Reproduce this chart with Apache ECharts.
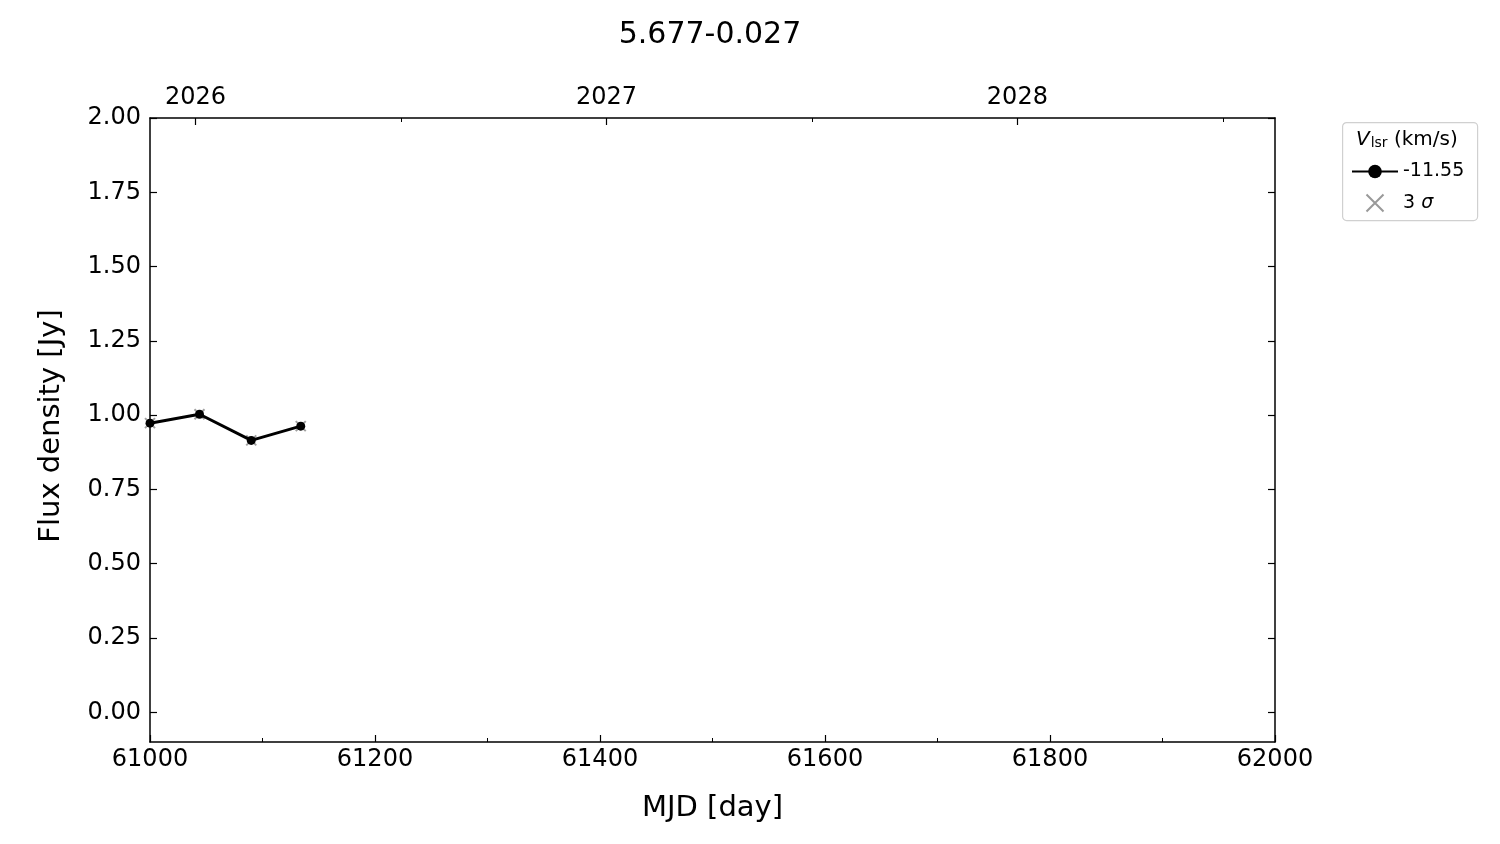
<!DOCTYPE html>
<html>
<head>
<meta charset="utf-8">
<script src="https://cdn.jsdelivr.net/npm/echarts@6/dist/echarts.min.js"></script>
<style>html,body{margin:0;padding:0;background:#fff}#c{width:1500px;height:844px}</style>
</head>
<body>
<div id="c"></div>
<script>
// ---- data ----
var mjd = [61000, 61044, 61090, 61134];
var flux = [0.973, 1.003, 0.915, 0.963];
var seriesName = '-11.55';
var limitName = '3 σ';
var yTicks = [0, 0.25, 0.5, 0.75, 1.0, 1.25, 1.5, 1.75, 2.0];
var yearMajor = [2026, 2027, 2028];
var yearMinor = [2026.5, 2027.5, 2028.5];
var titleText = '5.677-0.027';

function yearToMJD(y){ return 51544 + (y - 2000) * 365.25; }
function mjdToYear(m){ return (m - 51544) / 365.25 + 2000; }

var font = 'DejaVu Sans';
var pts = mjd.map(function(m,i){ return [m, flux[i]]; });
var xPath = 'path://M0,0 L10,10 M10,0 L0,10';
var gridBox = {left: 150, right: 225, top: 118, bottom: 102, containLabel: false};

var chart = echarts.init(document.getElementById('c'), null, {renderer:'canvas'});
chart.setOption({
  animation: false,
  backgroundColor: '#fff',
  title: {
    text: titleText, left: 705, top: 15, textAlign: 'center',
    textStyle: {fontFamily: font, fontSize: 30, fontWeight: 'normal', color: '#000'}
  },
  grid: [gridBox, Object.assign({}, gridBox)],
  xAxis: [
    {
      type: 'value', gridIndex: 0, position: 'bottom', min: 61000, max: 62000, interval: 200,
      name: 'MJD [day]', nameLocation: 'middle', nameGap: 52,
      nameTextStyle: {fontFamily: font, fontSize: 29, color: '#000'},
      axisLine: {show: true, onZero: false, lineStyle: {color: '#000', width: 1.5}},
      axisTick: {show: true, inside: true, length: 7, lineStyle: {color: '#000', width: 1.2}},
      minorTick: {show: true, splitNumber: 2, length: 4, lineStyle: {color: '#000', width: 1}},
      splitLine: {show: false},
      axisLabel: {fontFamily: font, fontSize: 24, color: '#000', margin: 6, formatter: function(v){ return String(v); }}
    },
    {
      type: 'value', gridIndex: 0, position: 'top', min: 61000, max: 62000,
      axisLine: {show: true, onZero: false, lineStyle: {color: '#000', width: 1.5}},
      axisTick: {show: true, inside: true, length: 7, customValues: yearMajor.map(yearToMJD), lineStyle: {color: '#000', width: 1.2}},
      splitLine: {show: false},
      axisLabel: {
        fontFamily: font, fontSize: 24, color: '#000', margin: 8,
        customValues: yearMajor.map(yearToMJD),
        formatter: function(v){ return String(Math.round(mjdToYear(v))); }
      }
    },
    {
      type: 'value', gridIndex: 1, position: 'top', min: 61000, max: 62000,
      axisLine: {show: false, onZero: false},
      axisTick: {show: true, inside: true, length: 4, customValues: yearMinor.map(yearToMJD), lineStyle: {color: '#000', width: 1}},
      splitLine: {show: false},
      axisLabel: {show: false}
    }
  ],
  yAxis: [
    {
      type: 'value', gridIndex: 0, position: 'left', min: -0.1, max: 2.0,
      name: 'Flux density [Jy]', nameLocation: 'middle', nameGap: 84,
      nameTextStyle: {fontFamily: font, fontSize: 29, color: '#000', padding: [0, 0, 0, 8]},
      axisLine: {show: true, onZero: false, lineStyle: {color: '#000', width: 1.5}},
      axisTick: {show: true, inside: true, length: 7, customValues: yTicks, lineStyle: {color: '#000', width: 1.2}},
      splitLine: {show: false},
      axisLabel: {
        fontFamily: font, fontSize: 24, color: '#000', margin: 9,
        customValues: yTicks,
        formatter: function(v){ return v.toFixed(2); }
      }
    },
    {
      type: 'value', gridIndex: 0, position: 'right', min: -0.1, max: 2.0,
      axisLine: {show: true, onZero: false, lineStyle: {color: '#000', width: 1.5}},
      axisTick: {show: true, inside: true, length: 7, customValues: yTicks, lineStyle: {color: '#000', width: 1.2}},
      splitLine: {show: false},
      axisLabel: {show: false}
    },
    {
      type: 'value', gridIndex: 1, min: -0.1, max: 2.0, show: false
    }
  ],
  legend: {
    orient: 'vertical', left: 1346, top: 157, itemWidth: 46, itemHeight: 17, itemGap: 11,
    data: [seriesName, limitName],
    textStyle: {fontFamily: font, fontSize: 19, color: '#000', rich: {i: {fontFamily: font, fontSize: 19, fontStyle: 'italic'}}},
    formatter: function(n){ return n === limitName ? '3 {i|σ}' : n; }
  },
  graphic: [
    {type: 'rect', left: 1342, top: 122, shape: {width: 135, height: 98, r: 4}, style: {fill: '#fff', stroke: '#d0d0d0', lineWidth: 1.2}, z: -1},
    {type: 'text', left: 1356, top: 130, style: {
      text: '{v|V}{s|lsr}{n| (km/s)}',
      rich: {
        v: {fontFamily: font, fontSize: 20, fontStyle: 'italic', fill: '#000'},
        s: {fontFamily: font, fontSize: 14, fill: '#000', verticalAlign: 'bottom', padding: [7,0,0,1]},
        n: {fontFamily: font, fontSize: 20, fill: '#000'}
      }
    }}
  ],
  series: [
    {
      name: 'err', type: 'scatter', xAxisIndex: 0, yAxisIndex: 0, data: pts,
      symbol: xPath, symbolSize: 10, silent: true,
      itemStyle: {color: 'none', borderColor: '#888', borderWidth: 2}, z: 1
    },
    {
      name: seriesName, type: 'line', xAxisIndex: 0, yAxisIndex: 0, data: pts,
      symbol: 'circle', symbolSize: 9, showSymbol: true,
      lineStyle: {color: '#000', width: 3}, itemStyle: {color: '#000'}, z: 3
    },
    {
      name: limitName, type: 'scatter', xAxisIndex: 0, yAxisIndex: 0, data: [],
      symbol: xPath, symbolSize: 20, symbolKeepAspect: true,
      itemStyle: {color: 'none', borderColor: '#808080', borderWidth: 3}
    }
  ]
});
</script>
</body>
</html>
